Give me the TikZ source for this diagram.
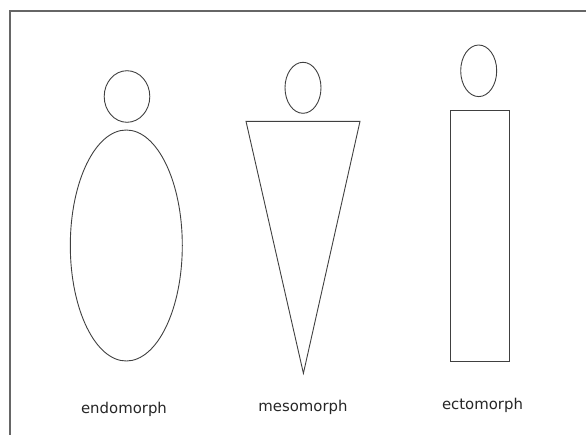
\documentclass[tikz,border=0pt]{standalone}
\usepackage{fontspec}
\setmainfont{DejaVu Sans}
\usetikzlibrary{shapes.geometric}
\tikzset{
  outline/.style={draw=black!75, line width=0.9pt},
  headshape/.style={outline, ellipse, inner sep=0pt},
  lbl/.style={anchor=base, inner sep=0pt, text=black!85, font=\fontsize{14.9}{18}\selectfont},
  frameline/.style={draw=black!60, line width=1.6pt}
}
\begin{document}
\begin{tikzpicture}[x=1pt, y=-1pt]
\useasboundingbox (0,0) rectangle (586,434);
% frame (only top and left edges visible)
\coordinate (fbl) at (10,440);
\coordinate (ftl) at (10,11);
\coordinate (ftr) at (592,11);
\draw[frameline] (fbl) -- (ftl) -- (ftr);
% endomorph
\node[headshape, minimum width=45.6pt, minimum height=51.6pt] (endohead) at (127,96.5) {};
\node[headshape, minimum width=112pt, minimum height=231pt] (endobody) at (126.3,245.5) {};
\node[lbl] (endolbl) at (124,413) {endomorph};
% mesomorph
\node[headshape, minimum width=36pt, minimum height=51pt] (mesohead) at (303,87.8) {};
\coordinate (mtl) at (246,121.3);
\coordinate (mtr) at (360,121.3);
\coordinate (mapex) at (303.4,373.3);
\draw[outline, line join=miter] (mtl) -- (mtr) -- (mapex) -- cycle;
\node[lbl] (mesolbl) at (303,411.3) {mesomorph};
% ectomorph
\node[headshape, minimum width=36pt, minimum height=51.6pt] (ectohead) at (478.7,70.8) {};
\node[outline, rectangle, inner sep=0pt, minimum width=59.3pt, minimum height=251.7pt] (ectobody) at (479.65,235.85) {};
\node[lbl] (ectolbl) at (482.5,409) {ectomorph};
\end{tikzpicture}
\end{document}
